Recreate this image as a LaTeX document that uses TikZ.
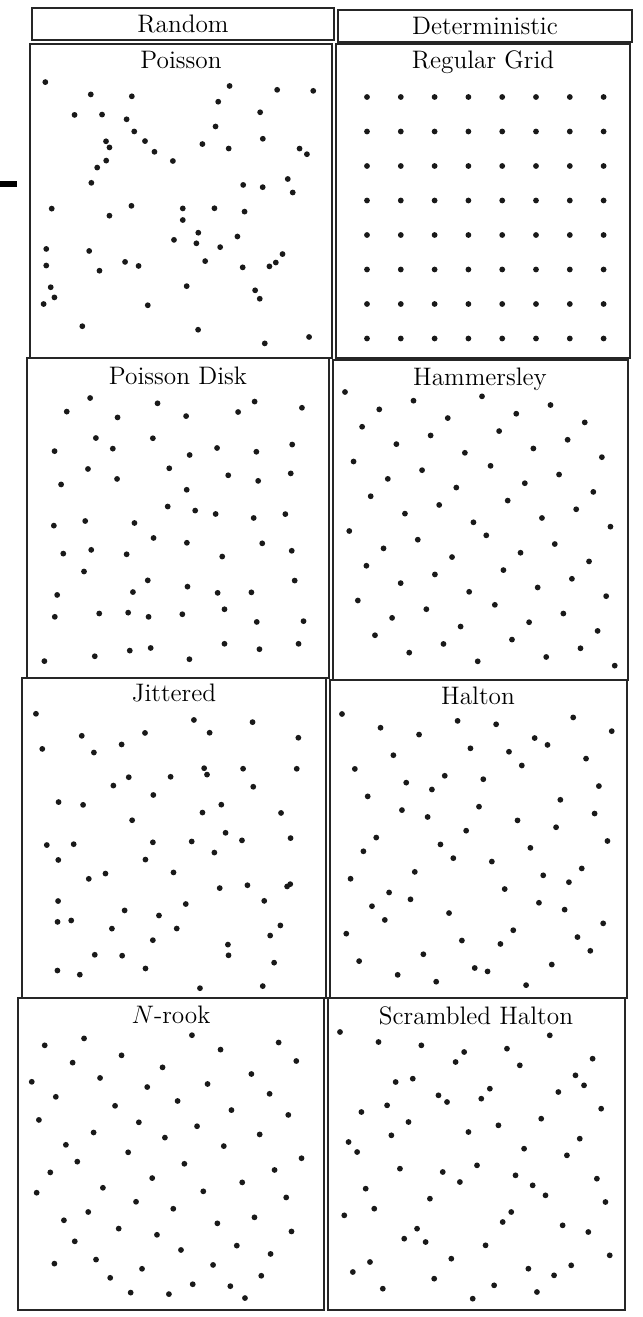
\documentclass[tikz,border=0pt]{standalone}
\usepackage{tikz}
\newcount\hcN \newcount\hcQ \newcount\hcD \newcount\hcV \newcount\hcK \newcount\hcP \newcount\hcS \newcount\hcT
\newcommand\radinv[4]{%
  \hcN=#1\relax \hcV=0 \hcK=0 \hcP=1
  \loop\ifnum\hcK<#3
    \hcQ=\hcN \divide\hcQ by #2
    \hcD=\hcQ \multiply\hcD by -#2 \advance\hcD by \hcN
    \ifnum#4=1
      \hcS=\numexpr 7*\hcV+5*\hcK+3\relax
      \hcT=\hcS \divide\hcT by #2 \multiply\hcT by #2 \advance\hcS by -\hcT
      \advance\hcD by \hcS \ifnum\hcD<#2 \else \advance\hcD by -#2 \fi
    \fi
    \multiply\hcV by #2 \advance\hcV by \hcD
    \multiply\hcP by #2
    \hcN=\hcQ
    \advance\hcK by 1
  \repeat
  \pgfmathsetmacro\hres{\the\hcV/\the\hcP}}
\begin{document}
\begin{tikzpicture}[x=0.02cm,y=-0.02cm,
  box/.style={draw=black!85,line width=1.1pt},
  lbl/.style={font=\fontsize{14.4}{16}\selectfont,inner sep=1pt},
  sample/.style={fill=black!90}]
  \useasboundingbox (0,0) rectangle (642,1317);
  \fill (0,181) rectangle (17,187);

  \draw[box] (32,8) rectangle (334,40);
  \draw[box] (338,10) rectangle (632,42);
  \node[lbl] (random) at (183,24) {Random};
  \node[lbl] (determ) at (485,26) {Deterministic};

  \draw[box] (30,44) rectangle (332,358);
  \draw[box] (336,44) rectangle (630,358);
  \draw[box] (27,358) rectangle (329,678);
  \draw[box] (333,360) rectangle (628,680);
  \draw[box] (22,678) rectangle (326,998);
  \draw[box] (330,680) rectangle (627,998);
  \draw[box] (18,998) rectangle (324,1310);
  \draw[box] (328,998) rectangle (625,1310);

  \node[lbl] (poisson) at (181,60) {Poisson};
  \node[lbl] (grid) at (483,62) {Regular Grid};
  \node[lbl] (pdisk) at (178,376) {Poisson Disk};
  \node[lbl] (hammer) at (480,379) {Hammersley};
  \node[lbl] (jitter) at (174,693) {Jittered};
  \node[lbl] (halton) at (478,696) {Halton};
  \node[lbl] (nrook) at (171,1015) {$N$-rook};
  \node[lbl] (shalton) at (476,1016) {Scrambled Halton};

  \pgfmathsetseed{11}
  \foreach \i in {1,...,64}
    \fill[sample] ({42+274*rnd},{78+272*rnd}) circle[radius=0.058cm];
  \foreach \i in {0,...,7}
    \foreach \j in {0,...,7}
      \fill[sample] ({367+33.8*\i},{97+34.5*\j}) circle[radius=0.058cm];

  \pgfmathsetseed{23}
  \foreach \i in {0,...,7}
    \foreach \j in {0,...,7}
      \fill[sample] ({39+274/8*(\i+0.15+0.7*rnd)},{392+278/8*(\j+0.15+0.7*rnd)}) circle[radius=0.058cm];
  \foreach \i in {0,...,63}{
    \radinv{\i}{2}{6}{0}
    \fill[sample] ({345+274/64*\i},{392+278*\hres}) circle[radius=0.058cm];
  }

  \pgfmathsetseed{5}
  \foreach \i in {0,...,7}
    \foreach \j in {0,...,7}
      \fill[sample] ({34+274/8*(\i+rnd)},{712+278/8*(\j+rnd)}) circle[radius=0.058cm];
  \foreach \i in {0,...,63}{
    \radinv{\i}{2}{6}{0}\let\hx\hres
    \radinv{\i}{3}{4}{0}\let\hy\hres
    \fill[sample] ({342+274*\hx},{714+278*\hy}) circle[radius=0.058cm];
  }

  \pgfmathsetseed{41}
  \foreach \p [count=\i from 0] in {37,12,58,3,44,21,62,9,30,51,16,0,41,27,55,6,
      34,19,47,60,2,25,39,14,53,31,8,45,22,63,11,36,57,4,28,49,17,40,1,59,
      24,33,13,52,7,43,20,61,29,10,48,35,56,15,5,42,26,54,18,38,46,23,32,50}
    \fill[sample] ({30+274/64*(\p+rnd)},{1032+270/64*(\i+rnd)}) circle[radius=0.058cm];
  \foreach \i in {0,...,63}{
    \radinv{\i}{2}{6}{1}\let\hx\hres
    \radinv{\i}{3}{4}{1}\let\hy\hres
    \fill[sample] ({340+274*\hx},{1032+270*\hy}) circle[radius=0.058cm];
  }
\end{tikzpicture}
\end{document}
